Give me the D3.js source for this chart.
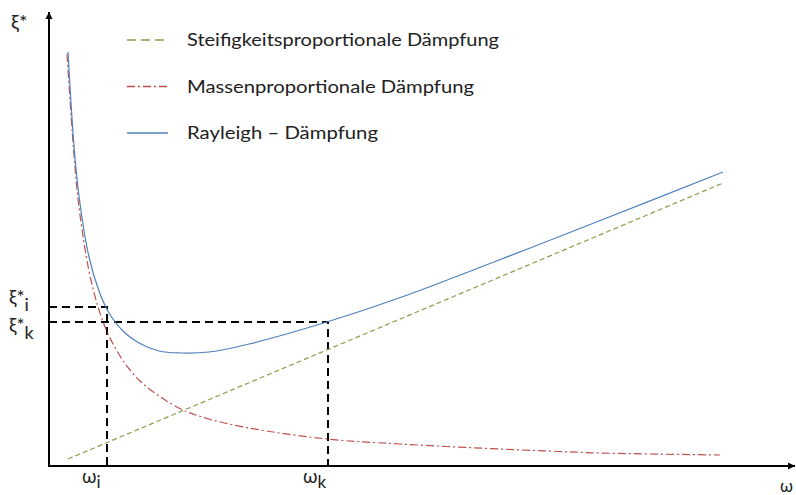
<!DOCTYPE html>
<html><head><meta charset="utf-8">
<script src="https://cdn.jsdelivr.net/npm/d3@7"></script>
<style>body{margin:0;background:#fff}svg{display:block}text{font-family:Lato,"Open Sans",sans-serif;fill:#222}</style>
</head><body><svg id="c" width="796" height="495"></svg>
<script>
// data (arbitrary units)
const omegaRayleigh = [0.19,0.25,0.30,0.40,0.50,0.60,0.75,0.90,1.10,1.31,1.60,2.00,2.81,3.50,4.50,5.50,6.74];
const xiRayleigh    = [4.14,3.20,2.70,2.09,1.75,1.53,1.34,1.23,1.15,1.13,1.14,1.22,1.45,1.68,2.06,2.45,2.94];
const omegaMass = [0.18,0.25,0.30,0.40,0.50,0.60,0.75,0.90,1.10,1.34,1.60,2.00,2.78,3.51,4.50,5.11,5.50,6.71];
const xiMass    = [4.12,3.11,2.59,1.95,1.56,1.30,1.04,0.86,0.70,0.56,0.47,0.38,0.27,0.22,0.17,0.145,0.13,0.11];
const omegaStiff = [0.19,6.74];
const xiStiff    = [0.07,2.83];
const markOmega = [0.58,2.79];
const markXi    = [1.59,1.44];
const markSub   = ["i","k"];
const legendLabels = ["Steifigkeitsproportionale Dämpfung","Massenproportionale Dämpfung","Rayleigh – Dämpfung"];
const legendWidths = [312,287,191];
const colors = ["#86A047","#C0504D","#4F81BD"];

const svg = d3.select("#c");
const x = d3.scaleLinear().domain([0,7.46]).range([49,795]);
const y = d3.scaleLinear().domain([0,4.54]).range([466,12]);

const defs = svg.append("defs");
defs.append("marker").attr("id","arr").attr("viewBox","0 0 10 10").attr("refX",10).attr("refY",5)
  .attr("markerWidth",7).attr("markerHeight",8).attr("markerUnits","userSpaceOnUse").attr("orient","auto")
  .append("path").attr("d","M0,0L10,5L0,10Z").attr("fill","#000");

const line = d3.line().x(d=>x(d[0])).y(d=>y(d[1])).curve(d3.curveCatmullRom.alpha(0.5));

// guide dashed lines
markOmega.forEach((w,i)=>{
  svg.append("path").attr("d",`M${x(0)},${y(markXi[i])}H${x(w)}V${y(0)}`)
    .attr("fill","none").attr("stroke","#000").attr("stroke-width",2).attr("stroke-dasharray","8,5");
});

// curves
svg.append("path").attr("d",line(omegaStiff.map((w,i)=>[w,xiStiff[i]])))
  .attr("fill","none").attr("stroke",colors[0]).attr("stroke-width",1.2).attr("stroke-dasharray","5,3");
svg.append("path").attr("d",line(omegaMass.map((w,i)=>[w,xiMass[i]])))
  .attr("fill","none").attr("stroke",colors[1]).attr("stroke-width",1.2).attr("stroke-dasharray","8,3,2,3");
svg.append("path").attr("d",line(omegaRayleigh.map((w,i)=>[w,xiRayleigh[i]])))
  .attr("fill","none").attr("stroke",colors[2]).attr("stroke-width",1.2);

// axes
svg.append("line").attr("x1",x(0)).attr("y1",y(0)).attr("x2",x(0)).attr("y2",y(4.54))
  .attr("stroke","#000").attr("stroke-width",2).attr("marker-end","url(#arr)");
svg.append("line").attr("x1",x(0)-1).attr("y1",y(0)).attr("x2",x(7.46)).attr("y2",y(0))
  .attr("stroke","#000").attr("stroke-width",2).attr("marker-end","url(#arr)");

// axis labels
svg.append("text").attr("x",11).attr("y",29).attr("font-size",20).text("ξ*");
svg.append("text").attr("x",780).attr("y",492).attr("font-size",17).text("ω");

markOmega.forEach((w,i)=>{
  const t = svg.append("text").attr("x",x(w)-25).attr("y",483).attr("font-size",19);
  t.append("tspan").text("ω");
  t.append("tspan").attr("dy",5).attr("font-size",17).text(markSub[i]);
  const t2 = svg.append("text").attr("x",9).attr("y",y(markXi[i])+(i===0?-3:10)).attr("font-size",19);
  t2.append("tspan").text("ξ*");
  t2.append("tspan").attr("dy",7).attr("font-size",18).text(markSub[i]);
});

// legend
const dashes = ["9,5","8,3,2,3",null];
legendLabels.forEach((l,i)=>{
  const yy = 40 + i*46.5;
  svg.append("line").attr("x1",127).attr("x2",168).attr("y1",yy).attr("y2",yy)
    .attr("stroke",colors[i]).attr("stroke-width",1.5).attr("stroke-dasharray",dashes[i]);
  svg.append("text").attr("x",187).attr("y",yy+6).attr("font-size",18)
    .attr("textLength",legendWidths[i]).attr("lengthAdjust","spacingAndGlyphs").text(l);
});
</script></body></html>
